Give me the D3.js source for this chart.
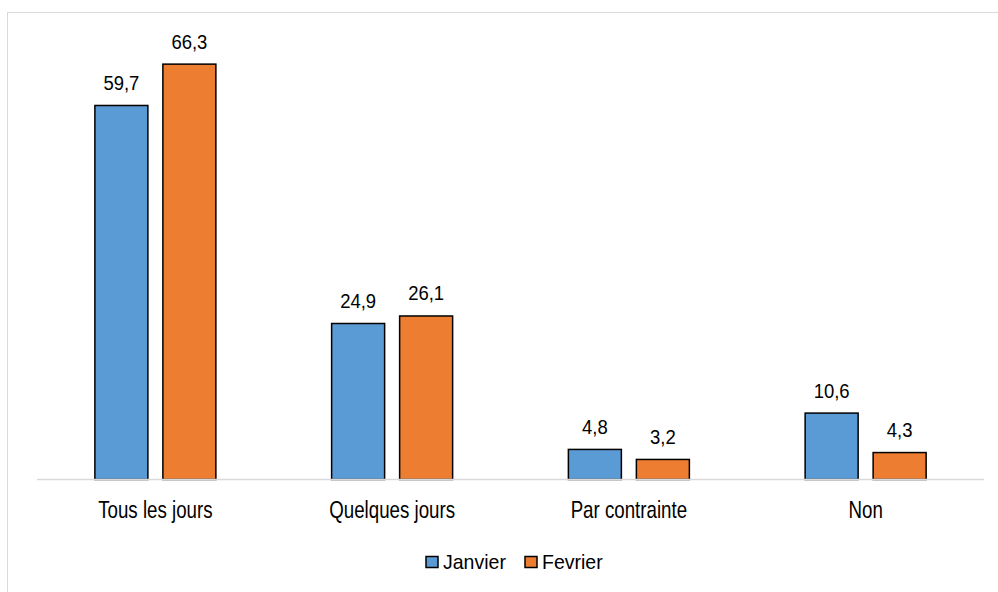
<!DOCTYPE html>
<html><head><meta charset="utf-8">
<script src="https://cdn.jsdelivr.net/npm/d3@7"></script>
<style>
html,body{margin:0;padding:0;background:#fff;}
text{font-family:"Liberation Sans Narrow","Arial Narrow","Liberation Sans",Arial,sans-serif;fill:#000;}
</style></head>
<body>
<svg id="chart" width="998" height="592"></svg>
<script>
const categories = ["Tous les jours","Quelques jours","Par contrainte","Non"];
const seriesNames = ["Janvier","Fevrier"];
const janvier = [59.7, 24.9, 4.8, 10.6];
const fevrier = [66.3, 26.1, 3.2, 4.3];
const colors = ["#5B9BD5","#ED7D31"];

const svg = d3.select("#chart");
// outer chart border
svg.append("rect").attr("x",7.5).attr("y",12.5).attr("width",1000).attr("height",600)
  .attr("fill","#fff").attr("stroke","#d9d9d9").attr("stroke-width",1);

const x0 = d3.scaleBand().domain(categories).range([37, 984]);
const barW = 53, gap = 15;
const groupOffset = (x0.bandwidth() - (2*barW + gap)) / 2;
const x1 = d3.scaleOrdinal().domain(seriesNames).range([groupOffset, groupOffset + barW + gap]);
const y = d3.scaleLinear().domain([0,70]).range([479.5, 479.5 - 70*6.265]);

const data = categories.map((c,i)=>({cat:c, vals:[janvier[i], fevrier[i]]}));
const fmt = v => d3.format(".1f")(v).replace(".", ",");

const g = svg.append("g");
data.forEach(d=>{
  d.vals.forEach((v,j)=>{
    const bx = x0(d.cat) + x1(seriesNames[j]);
    g.append("rect").attr("x",bx).attr("y",y(v)).attr("width",barW).attr("height",y(0)-y(v))
      .attr("fill",colors[j]).attr("stroke","#000").attr("stroke-width",1.5);
    g.append("text").attr("transform",`translate(${bx+barW/2},${y(v)-15.5}) scale(0.88,1)`)
      .attr("text-anchor","middle").attr("font-size",21).text(fmt(v));
  });
});

// baseline axis
const axis = d3.axisBottom(x0).tickSize(0).tickPadding(0);
const ax = svg.append("g").attr("transform",`translate(0,${y(0)})`).call(axis);
ax.select(".domain").attr("stroke","#d9d9d9").attr("stroke-width",1.5).attr("d","M37,0H984");
ax.selectAll("text").attr("font-size",24).attr("dy",null).attr("y",0).attr("fill","#000")
  .attr("transform","translate(0,38.5) scale(0.78,1)")
  .style("font-family",'"Liberation Sans Narrow","Arial Narrow","Liberation Sans",Arial,sans-serif');

// legend
const legend = svg.append("g");
const legX = [426, 525];
seriesNames.forEach((s,j)=>{
  legend.append("rect").attr("x",legX[j]).attr("y",556.5).attr("width",12).attr("height",11)
    .attr("fill",colors[j]).attr("stroke","#000").attr("stroke-width",1.5);
  legend.append("text").attr("transform",`translate(${legX[j]+17},568.5) scale(0.93,1)`)
    .attr("font-size",21).text(s);
});
</script>
</body></html>
